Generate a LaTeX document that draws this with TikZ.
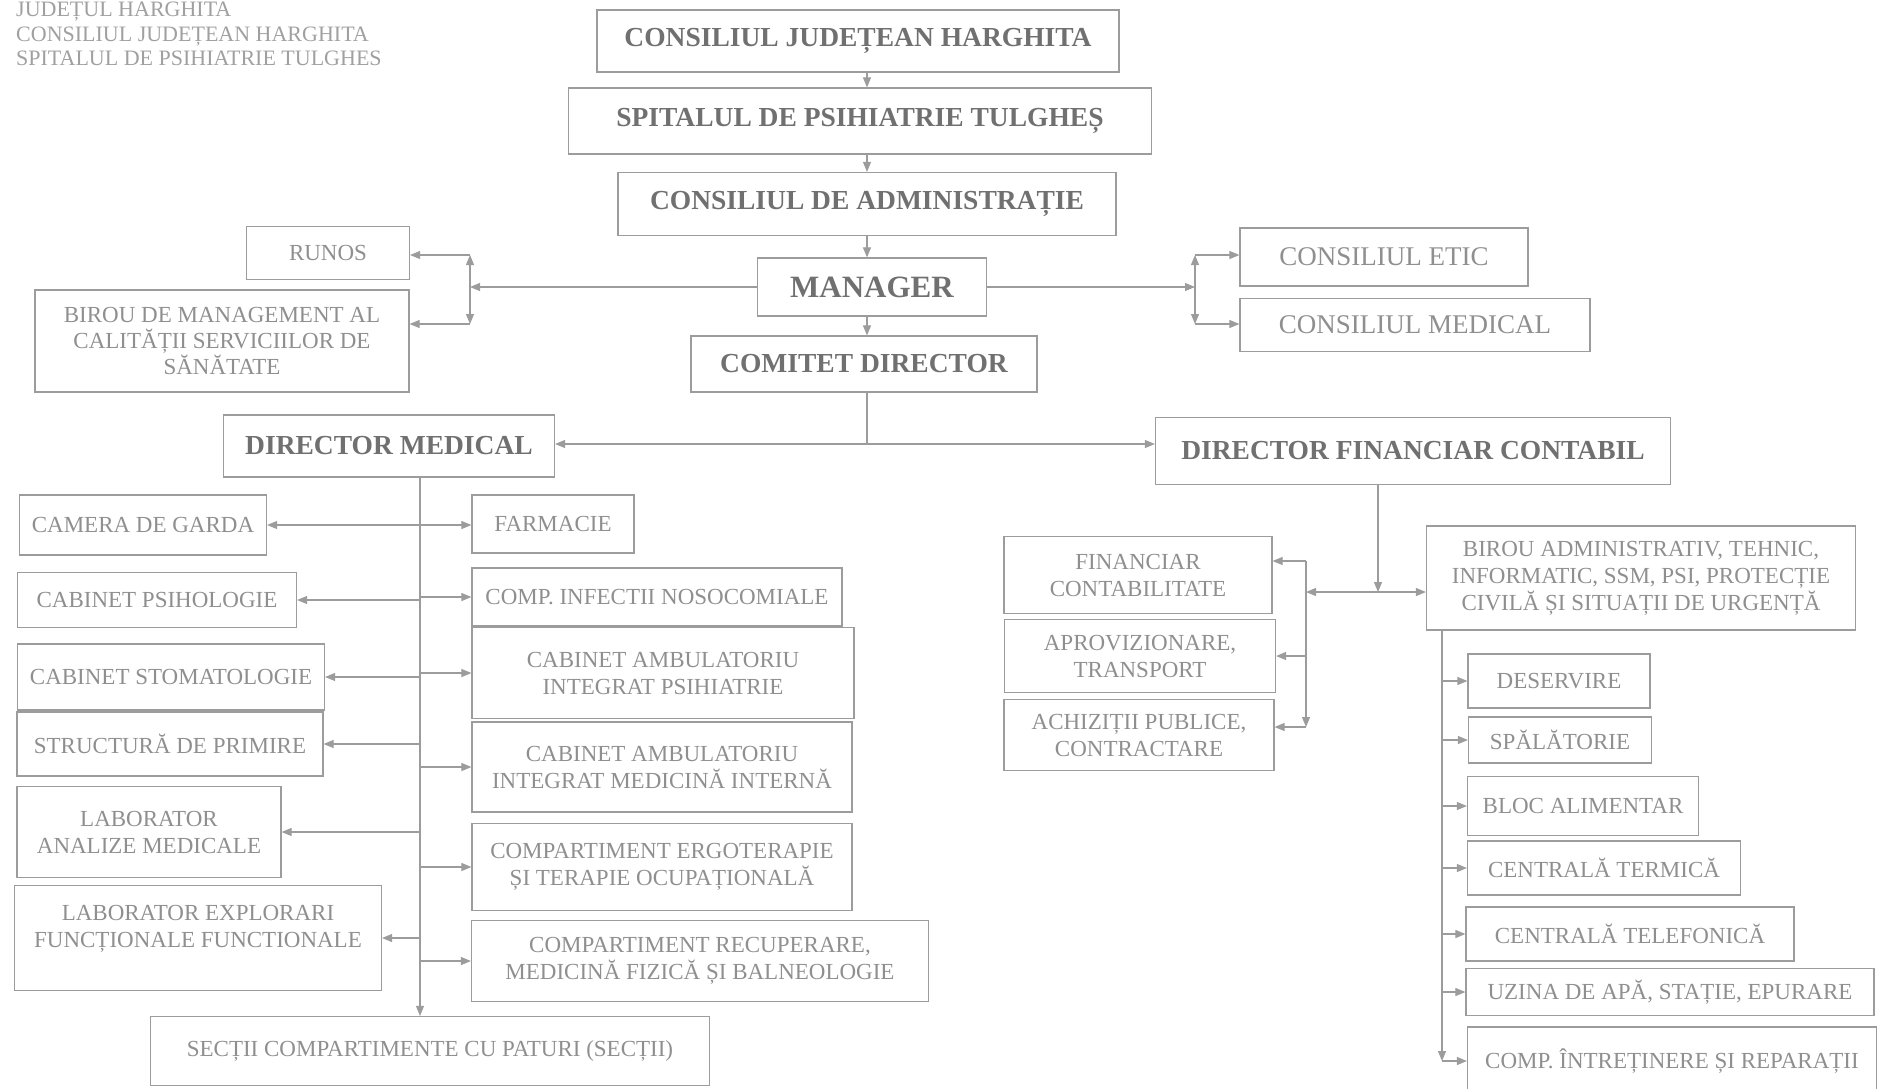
\documentclass[tikz,border=0pt]{standalone}
\usepackage{fontspec}
\setmainfont{Liberation Serif}
\usetikzlibrary{arrows.meta}
\definecolor{inkgray}{HTML}{8F8F8F}
\definecolor{titlegray}{HTML}{707070}
\definecolor{linegray}{HTML}{9C9C9C}
\definecolor{hdrgray}{HTML}{A0A0A0}

\begin{document}
\begin{tikzpicture}[x=1pt,y=-1pt,
    box/.style={draw=linegray, line width=1.2pt, text=inkgray, align=center, inner sep=2pt,
        font=\fontsize{23}{27}\selectfont},
    title/.style={box, text=titlegray, font=\fontsize{27.5}{32}\selectfont\bfseries},
    conn/.style={draw=linegray, line width=1.1pt},
    arr/.style={conn, -{Triangle[length=10pt,width=8pt]}},
    darr/.style={conn, {Triangle[length=10pt,width=8pt]}-{Triangle[length=10pt,width=8pt]}}]

    % Frame
    \useasboundingbox (0,0) rectangle (1884,1088);

    % Header
    \node[anchor=north west, align=left, inner sep=0pt, text=hdrgray,
        font=\fontsize{22}{24.5}\selectfont] (hdr) at (16,2)
        {JUDEȚUL HARGHITA\\CONSILIUL JUDEȚEAN HARGHITA\\SPITALUL DE PSIHIATRIE TULGHES};

    % Top chain
    \node[title, minimum width=522pt, minimum height=62pt] (cjh) at (858,41) {CONSILIUL JUDEȚEAN HARGHITA};
    \node[title, minimum width=583pt, minimum height=66pt] (spit) at (860,121) {SPITALUL DE PSIHIATRIE TULGHEȘ};
    \node[title, minimum width=498pt, minimum height=63pt] (cda) at (867,204) {CONSILIUL DE ADMINISTRAȚIE};
    \node[title, minimum width=229pt, minimum height=58pt, font=\fontsize{31}{36}\selectfont\bfseries] (mgr) at (872,287) {MANAGER};
    \node[title, minimum width=346pt, minimum height=56pt] (com) at (864,364) {COMITET DIRECTOR};

    % Beside the manager
    \node[box, minimum width=163pt, minimum height=53pt] (runos) at (328,253) {RUNOS};
    \node[box, minimum width=374pt, minimum height=102pt, font=\fontsize{23}{26}\selectfont] (bmc) at (222,341)
        {BIROU DE MANAGEMENT AL\\CALITĂȚII SERVICIILOR DE\\SĂNĂTATE};
    \node[box, minimum width=288pt, minimum height=58pt, font=\fontsize{27}{32}\selectfont] (etic) at (1384,257) {CONSILIUL ETIC};
    \node[box, minimum width=350pt, minimum height=53pt, font=\fontsize{27}{32}\selectfont] (cmed) at (1415,325) {CONSILIUL MEDICAL};

    % Directors
    \node[title, minimum width=331pt, minimum height=62pt] (dm) at (389,446) {DIRECTOR MEDICAL};
    \node[title, minimum width=515pt, minimum height=67pt] (dfc) at (1413,451) {DIRECTOR FINANCIAR CONTABIL};

    % Medical, left
    \node[box, minimum width=247pt, minimum height=60pt] (camera) at (143,525) {CAMERA DE GARDA};
    \node[box, minimum width=279pt, minimum height=55pt] (psih) at (157,600) {CABINET PSIHOLOGIE};
    \node[box, minimum width=307pt, minimum height=66pt] (stom) at (171,677) {CABINET STOMATOLOGIE};
    \node[box, minimum width=306pt, minimum height=64pt] (prim) at (170,744) {STRUCTURĂ DE PRIMIRE};
    \node[box, minimum width=264pt, minimum height=91pt] (lab) at (149,832) {LABORATOR\\ANALIZE MEDICALE};
    \node[box, minimum width=367pt, minimum height=105pt] (expl) at (198,938) {LABORATOR EXPLORARI\\FUNCȚIONALE FUNCTIONALE\\[-4pt]};

    % Medical, right
    \node[box, minimum width=162pt, minimum height=58pt] (farm) at (553,524) {FARMACIE};
    \node[box, minimum width=370pt, minimum height=58pt] (noso) at (657,597) {COMP. INFECTII NOSOCOMIALE};
    \node[box, minimum width=382pt, minimum height=91pt] (ambp) at (663,673) {CABINET AMBULATORIU\\INTEGRAT PSIHIATRIE};
    \node[box, minimum width=380pt, minimum height=90pt] (ambm) at (662,767) {CABINET AMBULATORIU\\INTEGRAT MEDICINĂ INTERNĂ};
    \node[box, minimum width=380pt, minimum height=87pt] (ergo) at (662,867) {COMPARTIMENT ERGOTERAPIE\\ȘI TERAPIE OCUPAȚIONALĂ};
    \node[box, minimum width=457pt, minimum height=81pt] (recup) at (700,961) {COMPARTIMENT RECUPERARE,\\MEDICINĂ FIZICĂ ȘI BALNEOLOGIE};
    \node[box, minimum width=559pt, minimum height=69pt] (sectii) at (430,1051) {SECȚII COMPARTIMENTE CU PATURI (SECȚII)};

    % Financial
    \node[box, minimum width=268pt, minimum height=77pt] (fc) at (1138,575) {FINANCIAR\\CONTABILITATE};
    \node[box, minimum width=271pt, minimum height=73pt] (aprov) at (1140,656) {APROVIZIONARE,\\TRANSPORT};
    \node[box, minimum width=270pt, minimum height=71pt] (achiz) at (1139,735) {ACHIZIȚII PUBLICE,\\CONTRACTARE};
    \node[box, minimum width=429pt, minimum height=104pt] (ba) at (1641,578)
        {BIROU ADMINISTRATIV, TEHNIC,\\INFORMATIC, SSM, PSI, PROTECȚIE\\CIVILĂ ȘI SITUAȚII DE URGENȚĂ};

    % Administrative
    \node[box, minimum width=182pt, minimum height=54pt] (deserv) at (1559,681) {DESERVIRE};
    \node[box, minimum width=183pt, minimum height=46pt] (spal) at (1560,740) {SPĂLĂTORIE};
    \node[box, minimum width=231pt, minimum height=59pt] (bloc) at (1583,806) {BLOC ALIMENTAR};
    \node[box, minimum width=273pt, minimum height=54pt] (cterm) at (1604,868) {CENTRALĂ TERMICĂ};
    \node[box, minimum width=328pt, minimum height=54pt] (ctel) at (1630,934) {CENTRALĂ TELEFONICĂ};
    \node[box, minimum width=408pt, minimum height=47pt] (uzina) at (1670,992) {UZINA DE APĂ, STAȚIE, EPURARE};
    \node[box, minimum width=409pt, minimum height=68pt] (intr) at (1672,1061) {COMP. ÎNTREȚINERE ȘI REPARAȚII};

    % Spines and junctions
    \coordinate (ax) at (867,0);
    \coordinate (jl) at (470,287);
    \coordinate (jlt) at (470,255);
    \coordinate (jlb) at (470,324);
    \coordinate (jr) at (1195,287);
    \coordinate (jrt) at (1195,255);
    \coordinate (jrb) at (1195,324);
    \coordinate (jd) at (867,444);
    \coordinate (ms) at (420,0);
    \coordinate (fs) at (1378,0);
    \coordinate (jf) at (1378,592);
    \coordinate (fv) at (1306,592);
    \coordinate (fvt) at (1306,561);
    \coordinate (fvb) at (1306,727);
    \coordinate (as) at (1442,0);

    % Top chain arrows
    \draw[arr] (cjh.south -| ax) -- (spit.north -| ax);
    \draw[arr] (spit.south -| ax) -- (cda.north -| ax);
    \draw[arr] (cda.south -| ax) -- (mgr.north -| ax);
    \draw[arr] (mgr.south -| ax) -- (com.north -| ax);

    % Manager sides
    \draw[arr] (mgr.west) -- (jl);
    \draw[darr] (jlt) -- (jlb);
    \draw[arr] (jlt) -- (runos.east |- jlt);
    \draw[arr] (jlb) -- (bmc.east |- jlb);
    \draw[arr] (mgr.east) -- (jr);
    \draw[darr] (jrt) -- (jrb);
    \draw[arr] (jrt) -- (etic.west |- jrt);
    \draw[arr] (jrb) -- (cmed.west |- jrb);

    % Directors
    \draw[conn] (com.south -| ax) -- (jd);
    \draw[arr] (jd) -- (dm.east |- jd);
    \draw[arr] (jd) -- (dfc.west |- jd);

    % Medical branch
    \draw[arr] (dm.south -| ms) -- (sectii.north -| ms);
    \draw[darr] (camera.east) -- (farm.west |- camera.east);
    \foreach \b in {psih,stom,prim,lab,expl}
        \draw[arr] (\b.east -| ms) -- (\b.east);
    \foreach \b in {noso,ambp,ambm,ergo,recup}
        \draw[arr] (\b.west -| ms) -- (\b.west);

    % Financial branch
    \draw[arr] (dfc.south -| fs) -- (jf);
    \draw[darr] (fv) -- (ba.west |- jf);
    \draw[arr] (fvt) -- (fvb);
    \draw[arr] (fvt) -- (fc.east |- fvt);
    \draw[arr] (aprov.east -| fv) -- (aprov.east);
    \draw[arr] (fvb) -- (achiz.east |- fvb);

    % Administrative branch
    \draw[arr] (ba.south -| as) -- (intr.west -| as);
    \foreach \b in {deserv,spal,bloc,cterm,ctel,uzina,intr}
        \draw[arr] (\b.west -| as) -- (\b.west);
\end{tikzpicture}
\end{document}
